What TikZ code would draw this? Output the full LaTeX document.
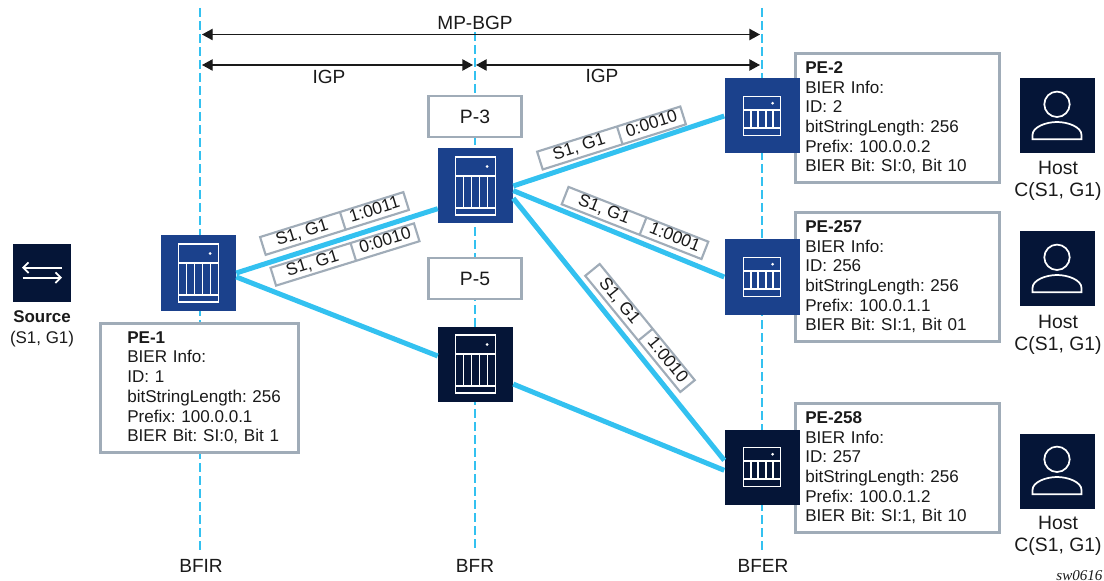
\documentclass[tikz,border=0pt]{standalone}
\usepackage{fontspec}
\setmainfont{Liberation Sans}
\newfontfamily\stampfont{Liberation Serif}
\usetikzlibrary{shapes.multipart,arrows.meta}
\definecolor{navy_dark}{HTML}{051537}
\definecolor{blue_router}{HTML}{1B418C}
\definecolor{cyan_link}{HTML}{33C1F0}
\definecolor{grey_box}{HTML}{A0ACB8}
\definecolor{text_black}{HTML}{1A1A1A}
\frenchspacing
\begin{document}
\begin{tikzpicture}[x=0.75pt, y=-0.75pt, text=text_black]
    \tikzstyle{router_style}=[rectangle, inner sep=0, minimum size=56.25pt]
    \tikzstyle{info_style}=[rectangle, draw=grey_box, fill=white, line width=1.9pt, anchor=north west, align=left, inner xsep=7.5pt, inner ysep=0, minimum height=96.75pt, font=\fontsize{12.8}{14.8}\selectfont]
    \tikzstyle{p_style}=[rectangle, draw=grey_box, fill=white, line width=1.9pt, inner sep=0, minimum width=70pt, minimum height=31pt, font=\fontsize{14.5}{16}\selectfont]
    \tikzstyle{tag_style}=[draw=grey_box, fill=white, line width=1.6pt, rectangle split, rectangle split horizontal, rectangle split parts=2, inner xsep=0, inner ysep=0, font=\fontsize{13}{15}\selectfont]
    \tikzstyle{label_style}=[inner sep=0, font=\fontsize{14.3}{16}\selectfont]
    \tikzstyle{host_style}=[inner sep=0, align=center, font=\fontsize{14.5}{16}\selectfont]
    \tikzstyle{link_style}=[draw=cyan_link, line width=3.75pt]
    \tikzstyle{level_style}=[draw=cyan_link, line width=1.9pt, dash pattern=on 6.5pt off 3.25pt]
    \tikzstyle{span_style}=[draw=text_black, line width=1pt, {Triangle[length=8pt,width=8.5pt]}-{Triangle[length=8pt,width=8.5pt]}]
    \tikzstyle{icon_style}=[draw=white, line width=1.3pt]

    % frame
    \useasboundingbox (0,0) rectangle (1104,581);

    % levels
    \foreach \name/\x/\ytop in {bfir/200/8,bfr/475/32,bfer/762/8} {
      \coordinate (\name_top) at (\x, \ytop);
      \coordinate (\name_bottom) at (\x, 552);
      \draw[level_style] (\name_top) -- (\name_bottom);
    }
    \node at (201, 566) [label_style] (label_bfir) {BFIR};
    \node at (475, 566) [label_style] (label_bfr) {BFR};
    \node at (763, 566) [label_style] (label_bfer) {BFER};

    % spans
    \coordinate (mp_left) at (202, 34.5);
    \coordinate (mp_right) at (760, 34.5);
    \coordinate (igp_left_a) at (202, 65);
    \coordinate (igp_left_b) at (473, 65);
    \coordinate (igp_right_a) at (476, 65);
    \coordinate (igp_right_b) at (760, 65);
    \draw[span_style] (mp_left) -- (mp_right);
    \draw[span_style] (igp_left_a) -- (igp_left_b);
    \draw[span_style] (igp_right_a) -- (igp_right_b);
    \node at (475, 23) [label_style] (label_mp) {MP-BGP};
    \node at (329, 77) [label_style] (label_igp_a) {IGP};
    \node at (602, 76) [label_style] (label_igp_b) {IGP};

    % info boxes
    \foreach \name/\x/\y/\w/\inset/\title/\id/\prefix/\bit in {pe_1/99/322/133.5pt/12.75pt/PE-1/1/100.0.0.1/{SI:0, Bit 1},pe_2/794/52/138pt/0pt/PE-2/2/100.0.0.2/{SI:0, Bit 10},pe_257/794/211/138pt/0pt/PE-257/256/100.0.1.1/{SI:1, Bit 01},pe_258/794/402/138pt/0pt/PE-258/257/100.0.1.2/{SI:1, Bit 10}}
      \node at (\x, \y) [info_style, text width=\w] (info_\name) {\leftskip=\inset \textbf{\title}\\BIER Info:\\ID: \id\\bitStringLength: 256\\Prefix: \prefix\\BIER Bit: \bit\endgraf};

    % routers
    \node at (198.5, 273) [router_style, fill=blue_router] (router_pe_1) {};
    \node at (475.5, 186) [router_style, fill=blue_router] (router_p_3) {};
    \node at (475.5, 364) [router_style, fill=navy_dark] (router_p_5) {};
    \node at (762, 116) [router_style, fill=blue_router] (router_pe_2) {};
    \node at (762, 277) [router_style, fill=blue_router] (router_pe_257) {};
    \node at (762, 467) [router_style, fill=navy_dark] (router_pe_258) {};

    % connect: routers
    \draw[link_style] (router_pe_1.east) -- (router_p_3.211);
    \draw[link_style] (router_pe_1.-6) -- (router_p_5.168);
    \draw[link_style] (router_p_5.-28) -- (router_pe_258.185);
    \draw[link_style] (router_p_3.east) -- (router_pe_2.west);
    \draw[link_style] (router_p_3.-7) -- (router_pe_257.west);
    \draw[link_style] (router_p_3.-18) -- (router_pe_258.170);

    % router faces
    \foreach \name/\w/\h/\ua/\ub in {pe_1/20/29/-10/22,p_3/20/29/-10/22,p_5/20/29/-10/22,pe_2/18.5/19.5/-6/12,pe_257/18.5/19.5/-6/12,pe_258/18.5/19.5/-6/12} {
      \begin{scope}[shift={(router_\name.center)}]
        \draw[icon_style] (-\w, -\h) rectangle (\w, \h);
        \draw[icon_style] (-\w, \ua) -- (\w, \ua);
        \draw[icon_style] (-\w, \ub) -- (\w, \ub);
        \foreach \t in {-0.6,-0.2,0.2,0.6}
          \draw[icon_style] (\t*\w, \ua) -- (\t*\w, \ub);
        \fill[white] (0.58*\w, {(\ua-\h)/2}) circle (1.5);
      \end{scope}
    }

    % p labels
    \node at (475, 116.5) [p_style] (box_p_3) {P-3};
    \node at (475, 278.5) [p_style] (box_p_5) {P-5};

    % tags
    \foreach \name/\x/\y/\rot/\bits in {pe_1_a/334.5/223.5/17.4/1:0011,pe_1_b/345/254.5/17.2/0:0010,p_3_a/611.5/138/17.5/0:0010,p_3_b/635/223/-21.4/1:0001,p_3_c/640/328/-50.7/1:0010}
      \node at (\x, \y) [tag_style, rotate=\rot] (tag_\name) {\makebox[62pt]{\rule[-4pt]{0pt}{14pt}S1, G1}\nodepart{two}\makebox[49pt]{\rule[-4pt]{0pt}{14pt}\bits}};

    % source
    \node at (42, 273) [rectangle, inner sep=0, minimum size=43.5pt, fill=navy_dark] (source) {};
    \coordinate (source_a) at (61.7, 267.7);
    \coordinate (source_b) at (22, 267.7);
    \coordinate (source_c) at (22.7, 277.7);
    \coordinate (source_d) at (62, 277.7);
    \draw[icon_style, -{Straight Barb[length=4pt,width=8pt]}] (source_a) -- (source_b);
    \draw[icon_style, -{Straight Barb[length=4pt,width=8pt]}] (source_c) -- (source_d);
    \node at (42, 329) [inner sep=0, align=center, font=\fontsize{12.7}{15.6}\selectfont] (label_source) {\textbf{Source}\\(S1, G1)};

    % hosts
    \foreach \name/\y/\ylabel in {a/116/181,b/269/335,c/471/536} {
      \node at (1057, \y) [router_style, fill=navy_dark] (host_\name) {};
      \begin{scope}[shift={(host_\name.center)}]
        \draw[icon_style] (0, -11.7) circle (12.7);
        \draw[icon_style] (-24.5, 23.3) -- (-24.5, 19) .. controls (-24.5, 11) and (-11, 6) .. (0, 6) .. controls (11, 6) and (24.5, 11) .. (24.5, 19) -- (24.5, 23.3) -- cycle;
      \end{scope}
      \node at (1058, \ylabel) [host_style] (label_host_\name) {Host\\C(S1, G1)};
    }

    % stamp
    \node at (1079.5, 576) [inner sep=0, font=\stampfont\itshape\fontsize{11.3}{13}\selectfont] (stamp) {sw0616};
\end{tikzpicture}
\end{document}
